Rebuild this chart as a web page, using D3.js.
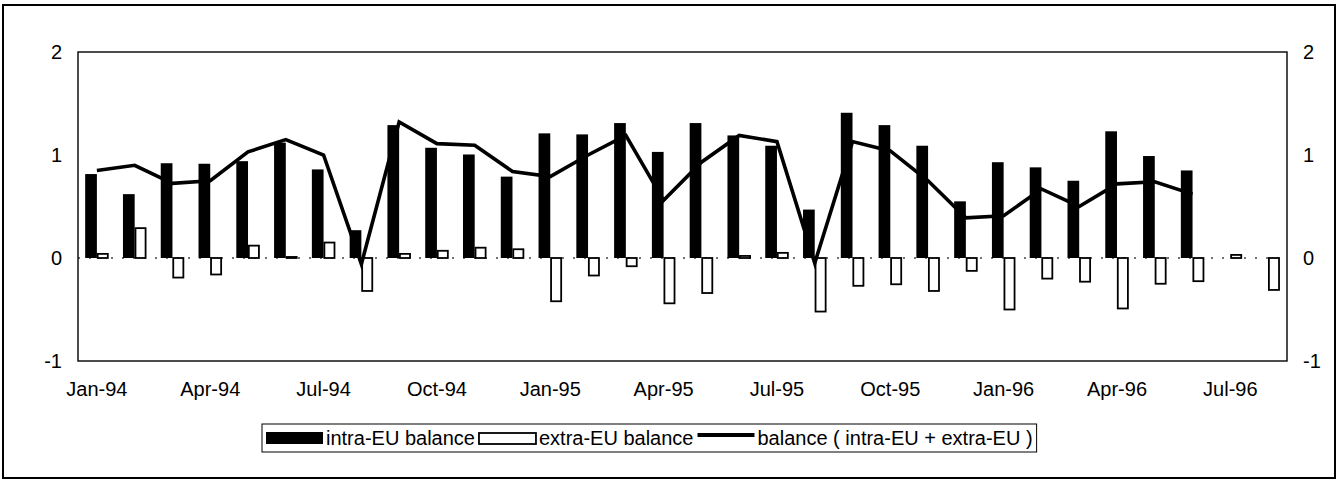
<!DOCTYPE html>
<html>
<head>
<meta charset="utf-8">
<script src="https://cdn.jsdelivr.net/npm/d3@7"></script>
<style>
  html, body { margin: 0; padding: 0; background: #fff; }
  svg { display: block; }
  text { font-family: "Liberation Sans", Arial, sans-serif; fill: #000; }
</style>
</head>
<body>
<svg id="chart" width="1337" height="480"></svg>
<script>
// ---- data ----
const months = ["Jan-94","Feb-94","Mar-94","Apr-94","May-94","Jun-94","Jul-94","Aug-94","Sep-94","Oct-94","Nov-94","Dec-94",
                "Jan-95","Feb-95","Mar-95","Apr-95","May-95","Jun-95","Jul-95","Aug-95","Sep-95","Oct-95","Nov-95","Dec-95",
                "Jan-96","Feb-96","Mar-96","Apr-96","May-96","Jun-96","Jul-96","Aug-96"];
const tickLabels = ["Jan-94","Apr-94","Jul-94","Oct-94","Jan-95","Apr-95","Jul-95","Oct-95","Jan-96","Apr-96","Jul-96"];
const intraEU = [0.815,0.62,0.92,0.915,0.94,1.12,0.86,0.27,1.29,1.07,1.005,0.79,
                 1.21,1.20,1.31,1.03,1.31,1.19,1.09,0.47,1.41,1.29,1.09,0.55,
                 0.93,0.88,0.75,1.23,0.99,0.85,null,null];
const extraEU = [0.04,0.29,-0.19,-0.16,0.12,0.01,0.15,-0.32,0.04,0.07,0.10,0.085,
                 -0.42,-0.17,-0.08,-0.44,-0.34,0.02,0.05,-0.52,-0.27,-0.255,-0.32,-0.125,
                 -0.50,-0.20,-0.23,-0.49,-0.25,-0.225,0.03,-0.31];
const balance = [0.85,0.90,0.725,0.75,1.03,1.15,1.00,-0.06,1.32,1.11,1.095,0.84,
                 0.79,1.00,1.19,0.56,0.93,1.19,1.13,-0.05,1.13,1.04,0.75,0.39,
                 0.41,0.67,0.50,0.72,0.74,0.62,null,null];
const yTicks = [-1,0,1,2];
const legendLabels = ["intra-EU balance","extra-EU balance","balance ( intra-EU + extra-EU )"];

// ---- layout ----
const svg = d3.select("#chart");
const L = 78, R = 1287, T = 52, B = 361;
const FS = 20;
const FONT = "'Liberation Sans', Arial, sans-serif";

// outer frame
svg.append("rect").attr("x",3).attr("y",5).attr("width",1332).attr("height",473)
  .attr("fill","none").attr("stroke","#000").attr("stroke-width",2);

const x = d3.scaleBand().domain(months).range([L,R]).paddingInner(0.38).paddingOuter(0.19);
const xs = d3.scaleBand().domain(["intra","extra"]).range([0, x.bandwidth()]);
const y = d3.scaleLinear().domain([-1,2]).range([B,T]);

// zero line (dotted)
svg.append("line").attr("x1",L).attr("x2",R).attr("y1",y(0)).attr("y2",y(0))
  .attr("stroke","#444").attr("stroke-width",1.3).attr("stroke-dasharray","2,9");

// bars
const g = svg.append("g");
months.forEach((m,i) => {
  if (intraEU[i] != null) {
    g.append("rect")
      .attr("x", x(m) + xs("intra"))
      .attr("width", xs.bandwidth())
      .attr("y", y(Math.max(0,intraEU[i])))
      .attr("height", Math.abs(y(intraEU[i]) - y(0)))
      .attr("fill","#000");
  }
  if (extraEU[i] != null) {
    g.append("rect")
      .attr("x", x(m) + xs("extra") + 0.8)
      .attr("width", xs.bandwidth() - 1.6)
      .attr("y", y(Math.max(0,extraEU[i])))
      .attr("height", Math.abs(y(extraEU[i]) - y(0)))
      .attr("fill","#fff").attr("stroke","#000").attr("stroke-width",1.8);
  }
});

// balance line
const line = d3.line()
  .defined(d => d.v != null)
  .x(d => x(d.m) + x.bandwidth()/2)
  .y(d => y(d.v));
svg.append("path")
  .datum(months.map((m,i) => ({m, v: balance[i]})))
  .attr("d", line)
  .attr("fill","none").attr("stroke","#000").attr("stroke-width",3.6)
  .attr("stroke-linejoin","miter");

// plot frame
svg.append("rect").attr("x",L).attr("y",T).attr("width",R-L).attr("height",B-T)
  .attr("fill","none").attr("stroke","#000").attr("stroke-width",1.4);

// y axes
const fmt = d => String(d);
const yl = svg.append("g").attr("transform",`translate(${L},0)`)
  .call(d3.axisLeft(y).tickValues(yTicks).tickSize(0).tickPadding(16).tickFormat(fmt));
const yr = svg.append("g").attr("transform",`translate(${R},0)`)
  .call(d3.axisRight(y).tickValues(yTicks).tickSize(0).tickPadding(16).tickFormat(fmt));
[yl,yr].forEach(a => {
  a.select(".domain").remove();
  a.selectAll("text").style("font-size",FS+"px").style("font-family",FONT);
});

// x axis
const xa = svg.append("g").attr("transform",`translate(0,${B})`)
  .call(d3.axisBottom(x).tickValues(tickLabels).tickSize(0).tickPadding(21));
xa.select(".domain").remove();
xa.selectAll("text").style("font-size",FS+"px").style("font-family",FONT);

// legend
const lg = svg.append("g");
const lgY = 438;
const legBox = lg.append("rect").attr("y",424).attr("height",28)
  .attr("fill","#fff").attr("stroke","#000").attr("stroke-width",1);
let cx = 266;
const sw = 57;
legendLabels.forEach((lab,i) => {
  if (i === 0) {
    lg.append("rect").attr("x",cx).attr("y",lgY-6).attr("width",sw).attr("height",12).attr("fill","#000");
  } else if (i === 1) {
    lg.append("rect").attr("x",cx).attr("y",lgY-5).attr("width",sw).attr("height",11)
      .attr("fill","#fff").attr("stroke","#000").attr("stroke-width",1.8);
  } else {
    lg.append("line").attr("x1",cx).attr("x2",cx+sw).attr("y1",lgY-3).attr("y2",lgY-3)
      .attr("stroke","#000").attr("stroke-width",4);
  }
  const t = lg.append("text").attr("x",cx+sw+3).attr("y",lgY).attr("dy","0.35em")
    .style("font-size",FS+"px").style("font-family",FONT).text(lab);
  cx = cx + sw + 3 + t.node().getComputedTextLength() + 4;
});
legBox.attr("x",262).attr("width", cx - 262);
</script>
</body>
</html>
